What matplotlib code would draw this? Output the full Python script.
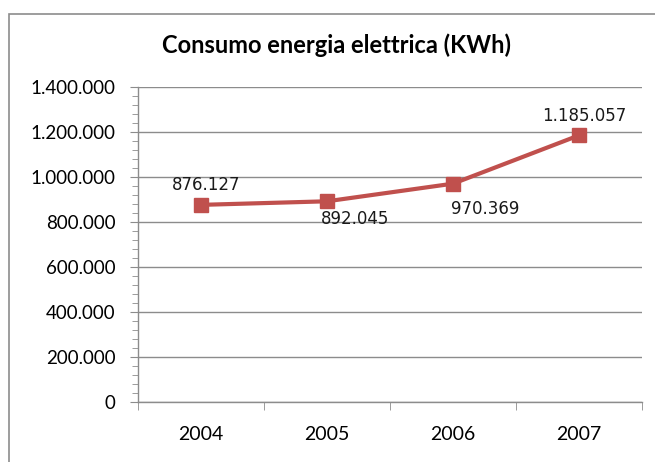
import matplotlib
matplotlib.use("Agg")
import matplotlib.pyplot as plt
from matplotlib.patches import Rectangle
from matplotlib.ticker import FuncFormatter, MultipleLocator

# data
years = ["2004", "2005", "2006", "2007"]
consumo = [876127, 892045, 970369, 1185057]
label_offsets = [(4, 14), (20, -13), (23, -18), (4, 14)]  # points, per label

plt.rcParams['font.family'] = ['Lato', 'DejaVu Sans']


def fmt_it(v, pos=None):
    return f"{int(round(v)):,}".replace(",", ".")


fig = plt.figure(figsize=(6.55, 4.62), dpi=100)
fig.patches.append(Rectangle((9 / 655, -0.1), 1.2, 1 - 14 / 462 + 0.1,
                             transform=fig.transFigure, fill=False,
                             edgecolor="#8c8c8c", linewidth=1.2))

ax = fig.add_axes([138 / 655, 1 - 402 / 462, (642 - 138) / 655, (402 - 87) / 462])

x = list(range(len(years)))
ax.plot(x, consumo, color="#C0504D", linewidth=3, marker="s", markersize=10,
        markerfacecolor="#C0504D", markeredgecolor="#C0504D", zorder=3)

for xi, v, off in zip(x, consumo, label_offsets):
    ax.annotate(fmt_it(v), (xi, v), xytext=off, textcoords="offset points",
                ha="center", va="center", fontsize=12, color="#1a1a1a",
                family="DejaVu Sans")

ax.set_xlim(-0.5, len(years) - 0.5)
ax.set_ylim(0, 1400000)
ax.yaxis.set_major_locator(MultipleLocator(200000))
ax.yaxis.set_minor_locator(MultipleLocator(40000))
ax.yaxis.set_major_formatter(FuncFormatter(fmt_it))
ax.set_xticks(x)
ax.set_xticklabels(years)
ax.set_xticks([i - 0.5 for i in range(len(years) + 1)], minor=True)

ax.grid(axis="y", which="major", color="#8c8c8c", linewidth=1)
ax.set_axisbelow(True)
for s in ["top", "right"]:
    ax.spines[s].set_visible(False)
for s in ["left", "bottom"]:
    ax.spines[s].set_color("#8c8c8c")
    ax.spines[s].set_linewidth(1)

ax.tick_params(axis="y", which="major", length=6, color="#8c8c8c", labelsize=13.5, pad=10)
ax.tick_params(axis="y", which="minor", length=4, color="#8c8c8c")
ax.tick_params(axis="x", which="major", length=0, labelsize=14, pad=17)
ax.tick_params(axis="x", which="minor", length=6, color="#8c8c8c")

fig.text(337 / 655, 1 - 45 / 462, "Consumo energia elettrica (KWh)",
         ha="center", va="center", fontsize=17, fontweight="bold")

fig.savefig("out.png", dpi=100)
